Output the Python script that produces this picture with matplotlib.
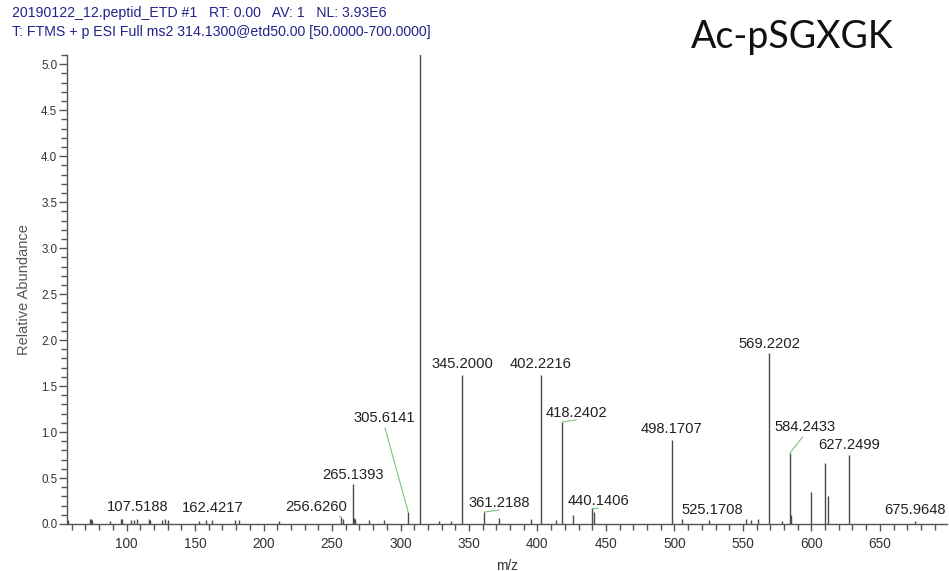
import numpy as np
import matplotlib
matplotlib.use("Agg")
import matplotlib.pyplot as plt
from matplotlib.ticker import MultipleLocator

# Spectrum peaks (m/z, relative abundance, in % of base peak)
mz = [56.0, 57.1, 73.0, 74.1, 75.0, 88.0, 96.0, 97.0, 103.1, 105.1,
      107.5188, 116.1, 117.1, 126.1, 128.1, 130.1, 153.1, 158.1, 162.4217,
      179.1, 182.1, 211.1, 256.6260, 258.1, 265.1393, 266.1, 267.1, 277.1,
      288.1, 305.6141, 314.1300, 328.1, 337.1, 345.2000, 361.2188, 372.2,
      395.2, 402.2216, 413.5, 418.2402, 426.2, 440.1406, 441.1, 498.1707,
      505.2, 525.1708, 552.2, 556.2, 561.2, 569.2202, 578.2, 584.2433,
      585.2, 599.5, 609.7, 611.9, 627.2499, 675.9648]
abundance = [0.06, 0.04, 0.05, 0.05, 0.04, 0.03, 0.05, 0.05, 0.04, 0.04,
             0.05, 0.05, 0.04, 0.04, 0.05, 0.04, 0.03, 0.04, 0.04,
             0.04, 0.04, 0.03, 0.08, 0.05, 0.43, 0.07, 0.05, 0.04,
             0.04, 0.13, 100.0, 0.03, 0.03, 1.62, 0.13, 0.06,
             0.05, 1.62, 0.04, 1.11, 0.10, 0.17, 0.13, 0.91,
             0.05, 0.04, 0.05, 0.04, 0.05, 1.86, 0.03, 0.77,
             0.10, 0.35, 0.66, 0.30, 0.75, 0.03]

labelled = ["107.5188", "162.4217", "256.6260", "265.1393", "305.6141",
            "345.2000", "361.2188", "402.2216", "418.2402", "440.1406",
            "498.1707", "525.1708", "569.2202", "584.2433", "627.2499",
            "675.9648"]

# label offset from peak top (pixels right, pixels up); leader drawn if shifted
offsets = {
    "107.5188": (1, 12), "162.4217": (1, 12), "256.6260": (-25, 10),
    "265.1393": (0, 9), "305.6141": (-24, 94), "345.2000": (0, 11),
    "361.2188": (15, 9), "402.2216": (0, 11), "418.2402": (14, 9),
    "440.1406": (6, 7), "498.1707": (0, 11), "525.1708": (3, 10),
    "569.2202": (0, 9), "584.2433": (15, 26), "627.2499": (0, 10),
    "675.9648": (0, 11),
}

header1 = "20190122_12.peptid_ETD #1   RT: 0.00   AV: 1   NL: 3.93E6"
header2 = "T: FTMS + p ESI Full ms2 314.1300@etd50.00 [50.0000-700.0000]"
name = "Ac-pSGXGK"

plt.rcParams["font.family"] = ["Liberation Sans", "DejaVu Sans"]

W, H = 949, 571
fig = plt.figure(figsize=(W / 100, H / 100), dpi=100)
ax = fig.add_axes([67 / W, 47 / H, (947 - 67) / W, (524 - 55) / H])

axis_col = "#555555"
ax.vlines(mz, 0, abundance, color="#4a4a4a", lw=1.0)

ax.set_xlim(56.5, 699)
ax.set_ylim(0, 5.1)

ax.xaxis.set_major_locator(MultipleLocator(50))
ax.xaxis.set_minor_locator(MultipleLocator(10))
ax.yaxis.set_major_locator(MultipleLocator(0.5))
ax.yaxis.set_minor_locator(MultipleLocator(0.1))
ax.yaxis.set_major_formatter(matplotlib.ticker.FormatStrFormatter("%.1f"))

for s in ["top", "right"]:
    ax.spines[s].set_visible(False)
for s in ["left", "bottom"]:
    ax.spines[s].set_color(axis_col)
    ax.spines[s].set_linewidth(1.0)

ax.tick_params(axis="x", which="major", length=5, width=1, color=axis_col,
               labelsize=9.8, labelcolor="#333333", pad=4)
ax.tick_params(axis="x", which="minor", length=4, width=1, color=axis_col)
ax.tick_params(axis="y", which="major", length=6, width=1, color=axis_col,
               labelsize=8.4, labelcolor="#333333", pad=1)
ax.tick_params(axis="y", which="minor", length=4, width=1, color=axis_col)

ax.set_xlabel("m/z", fontsize=9.8, color="#333333", labelpad=6)
ax.set_ylabel("Relative Abundance", fontsize=10.5, color="#555555", labelpad=7)

px = 72 / 100  # pixels -> points
for lab in labelled:
    x = float(lab)
    i = int(np.argmin(np.abs(np.array(mz) - x)))
    y = abundance[i]
    dx, dy = offsets[lab]
    arrow = None
    if abs(dx) > 4:
        arrow = dict(arrowstyle="-", color="#7cc47c", lw=0.8,
                     shrinkA=0, shrinkB=0, relpos=(0.5, 0.0))
    ax.annotate(lab, (x, y), xytext=(dx * px, dy * px),
                textcoords="offset points", ha="center", va="center",
                fontsize=10.6, color="#222222", arrowprops=arrow,
                annotation_clip=False)

fig.text(12 / W, 1 - 13 / H, header1, fontsize=10.2, color="#23238a",
         ha="left", va="center")
fig.text(12 / W, 1 - 32 / H, header2, fontsize=10.2, color="#23238a",
         ha="left", va="center")
fig.text(792 / W, 1 - 48 / H, name, fontsize=27, color="#111111",
         family=["Lato", "DejaVu Sans"], ha="center", va="baseline")

fig.savefig("out.png", dpi=100)
